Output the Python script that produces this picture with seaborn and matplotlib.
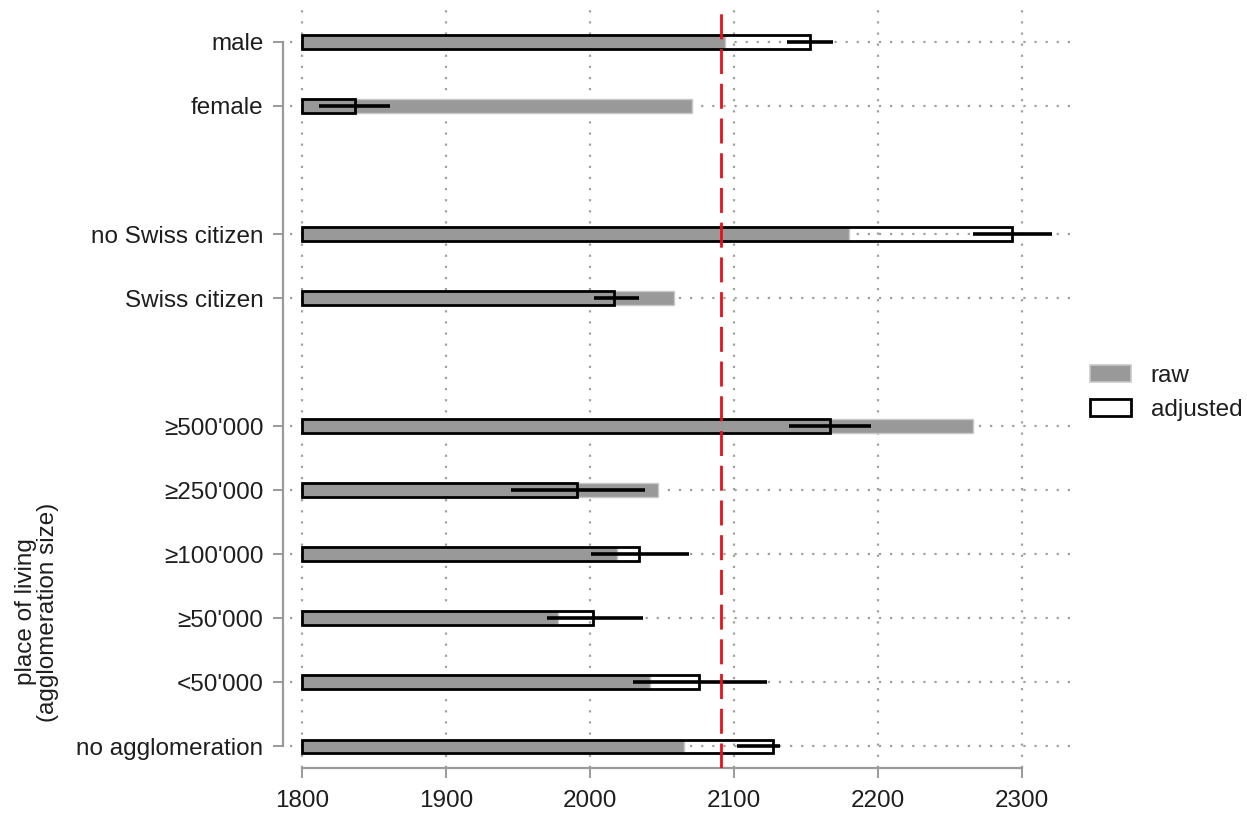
import numpy as np
import pandas as pd
import matplotlib
matplotlib.use("Agg")
import matplotlib.pyplot as plt
from matplotlib.patches import Patch
import seaborn as sns

# Row labels, grouped (sex, citizenship, agglomeration size)
categories = ["male", "female",
              "no Swiss citizen", "Swiss citizen",
              "\u2265500'000", "\u2265250'000", "\u2265100'000", "\u226550'000",
              "<50'000", "no agglomeration"]
group_sizes = [2, 2, 6]

# Median wages: raw and adjusted estimates with confidence bounds of the adjusted value
raw = [2094, 2071, 2180, 2058, 2266, 2047, 2019, 1978, 2042, 2065]
adjusted = [2153, 1837, 2293, 2017, 2167, 1991, 2034, 2002, 2076, 2127]
ci_low = [2137, 1812, 2266, 2003, 2138, 1945, 2001, 1970, 2030, 2102]
ci_high = [2169, 1861, 2321, 2034, 2195, 2038, 2069, 2037, 2123, 2132]
overall = 2091

x_ticks = [1800, 1900, 2000, 2100, 2200, 2300]
BASE = x_ticks[0]

# Row positions: consecutive within a group, one empty slot between groups
pos = []
p = 0
for g in group_sizes:
    pos.extend(range(p, p + g))
    p += g + 1
pos = np.array(pos, dtype=float)

df = pd.DataFrame({"pos": pos, "raw": raw, "adjusted": adjusted})

sns.set_theme(style="white")
plt.rcParams["font.family"] = ["Liberation Sans", "DejaVu Sans"]

fig = plt.figure(figsize=(12.47, 8.19), dpi=100)
ax = fig.add_axes([290 / 1247, 1 - 768 / 819, (1072 - 290) / 1247, (768 - 8) / 819])

RAW_GRAY = "#999999"
TXT = "#1e1e1e"
AX_GRAY = "#9a9a9a"

sns.barplot(data=df, x="raw", y="pos", orient="h", native_scale=True,
            width=0.21, color=RAW_GRAY, saturation=1, edgecolor="#c8c8c8",
            linewidth=1.0, errorbar=None, ax=ax, zorder=2)
sns.barplot(data=df, x="adjusted", y="pos", orient="h", native_scale=True,
            width=0.21, color="black", fill=False, linewidth=2.0,
            errorbar=None, ax=ax, zorder=3)

# Bars start at the axis origin of 1800 rather than zero
for patch in ax.patches:
    w = patch.get_width()
    patch.set_x(BASE)
    patch.set_width(w - BASE)

# Confidence intervals of the adjusted estimates
ax.hlines(pos, ci_low, ci_high, color="black", lw=2.6, zorder=4)

# Overall reference value
ax.axvline(overall, color="#e8101b", lw=2.0, dashes=(9, 3.5), zorder=5)

ax.set_xlim(BASE - 12 / 1.44, BASE + 770 / 1.44)
ax.set_ylim(pos[-1] + 0.34, pos[0] - 0.53)

ax.set_xticks(x_ticks)
ax.set_xticklabels([str(t) for t in x_ticks])
ax.set_yticks(pos)
ax.set_yticklabels(categories)

ax.set_axisbelow(True)
ax.grid(True, axis="both", linestyle=(0, (1, 4)), color="#a0a0a0", lw=1.6)

for side in ["top", "right"]:
    ax.spines[side].set_visible(False)
ax.spines["left"].set_position(("outward", 5))
ax.spines["left"].set_bounds(pos[0], pos[-1])
ax.spines["bottom"].set_bounds(x_ticks[0], x_ticks[-1])
for side in ["left", "bottom"]:
    ax.spines[side].set_color(AX_GRAY)
    ax.spines[side].set_linewidth(1.6)

ax.tick_params(axis="both", which="major", length=7, width=1.4, color=AX_GRAY,
               labelsize=17.5, labelcolor=TXT, direction="out")
ax.tick_params(axis="y", pad=7, left=True)
ax.tick_params(axis="x", pad=9, bottom=True)

ax.set_xlabel("")
ax.set_ylabel("place of living\n(agglomeration size)", fontsize=17.5, color=TXT,
              linespacing=0.95, va="center", ha="center")
ax.yaxis.set_label_coords((37 - 290) / 782, (768 - 612) / 760)

handles = [Patch(facecolor=RAW_GRAY, edgecolor="#c8c8c8", linewidth=1.2, label="raw"),
           Patch(facecolor="white", edgecolor="black", linewidth=2.0, label="adjusted")]
fig.legend(handles=handles, loc="center left", bbox_to_anchor=(1090 / 1247, 1 - 393 / 819),
           frameon=False, fontsize=17.5, handlelength=1.7, handleheight=0.7,
           handletextpad=0.8, labelspacing=0.5, labelcolor=TXT,
           borderpad=0, borderaxespad=0)

fig.savefig("out.png", dpi=100, facecolor="white")
